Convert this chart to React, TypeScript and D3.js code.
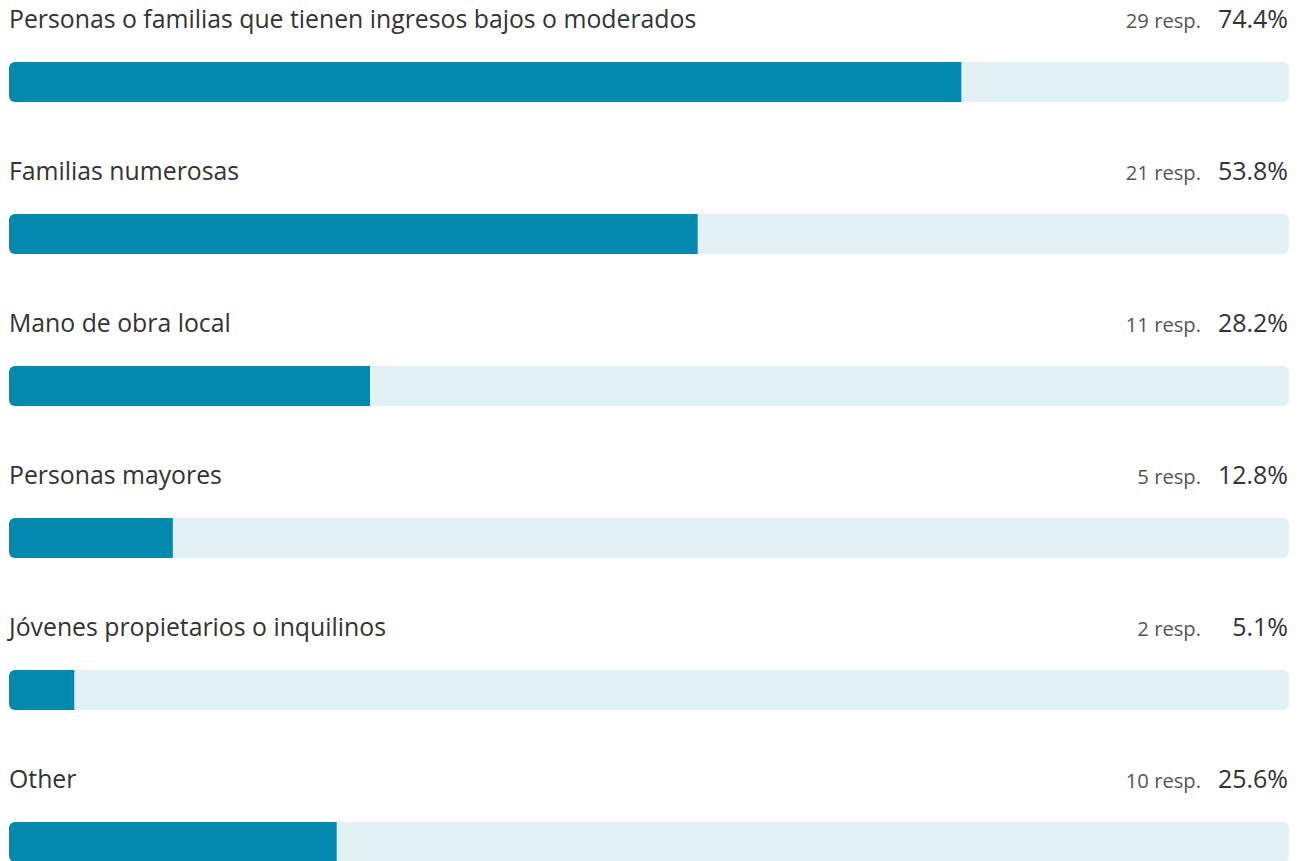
import React from "react";
import * as d3 from "d3";

const categories = [
  "Personas o familias que tienen ingresos bajos o moderados",
  "Familias numerosas",
  "Mano de obra local",
  "Personas mayores",
  "Jóvenes propietarios o inquilinos",
  "Other",
];
const responses = [29, 21, 11, 5, 2, 10];
const percents = [74.4, 53.8, 28.2, 12.8, 5.1, 25.6];

const W = 1304;
const H = 861;
const FONT = "'Open Sans', 'Noto Sans', sans-serif";

export default function App() {
  const x = d3.scaleLinear().domain([0, 100]).range([9, 1289]);
  const y = d3.scaleBand<string>().domain(categories).range([0, 152 * categories.length]);
  const barTop = 62;
  const barH = 40;
  return (
    <svg
      width={W}
      height={H}
      style={{ position: "absolute", left: 0, top: 0, display: "block", background: "#fff" }}
      fontFamily={FONT}
    >
      <defs>
        {categories.map((c, i) => (
          <clipPath id={`clip${i}`} key={c}>
            <rect x={x(0)} y={(y(c) ?? 0) + barTop} width={x(100) - x(0)} height={barH} rx={6} ry={6} />
          </clipPath>
        ))}
      </defs>
      {categories.map((c, i) => {
        const y0 = y(c) ?? 0;
        return (
          <g key={c}>
            <text x={x(0)} y={y0 + 28} fontSize={24.8} fill="#333">
              {c}
            </text>
            <text x={1201} y={y0 + 28} fontSize={20.2} fill="#555" textAnchor="end">
              {`${responses[i]} resp.`}
            </text>
            <text x={x(100) - 1} y={y0 + 28} fontSize={25} fill="#333" textAnchor="end">
              {`${percents[i].toFixed(1)}%`}
            </text>
            <rect
              x={x(0)}
              y={y0 + barTop}
              width={x(100) - x(0)}
              height={barH}
              rx={6}
              ry={6}
              fill="#E3F1F6"
            />
            <rect
              x={x(0)}
              y={y0 + barTop}
              width={x(percents[i]) - x(0)}
              height={barH}
              fill="#0388B0"
              clipPath={`url(#clip${i})`}
            />
          </g>
        );
      })}
    </svg>
  );
}
